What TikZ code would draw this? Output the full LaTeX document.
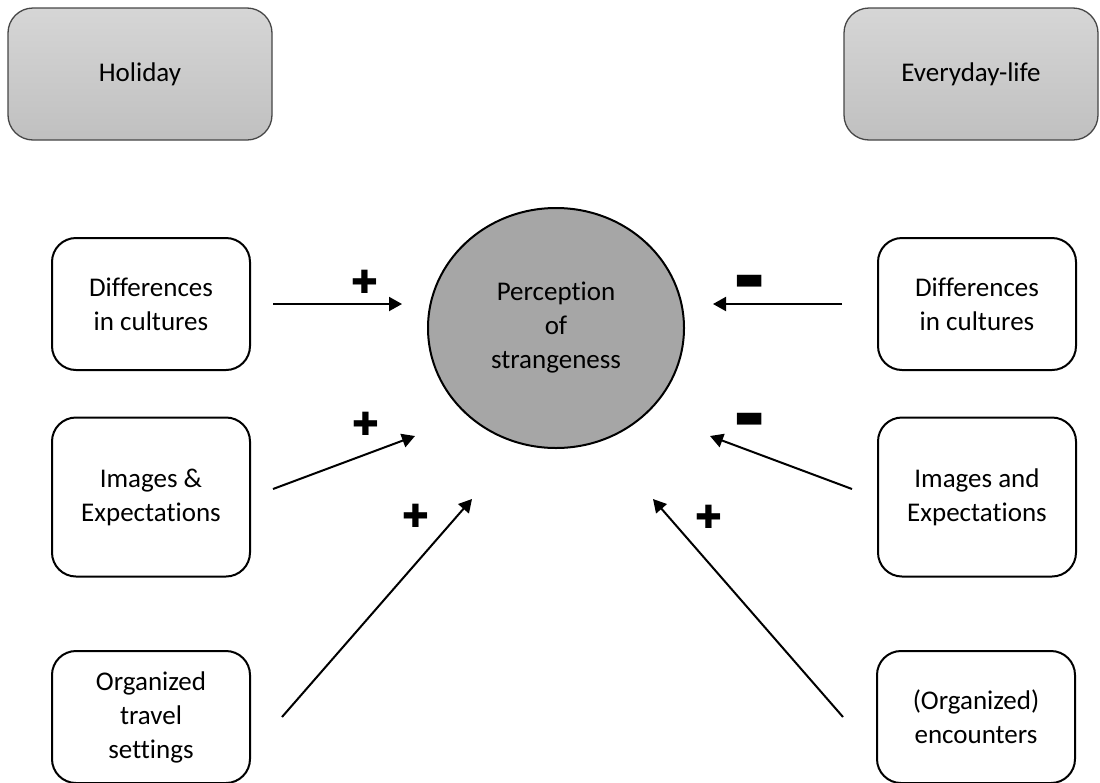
\documentclass[tikz,border=0pt]{standalone}
\usepackage{fontspec}
\setmainfont{Carlito}[Ligatures=NoCommon]
\newfontfamily\signfont{DejaVu Sans}
\usepackage{tikz}
\usetikzlibrary{shapes.geometric,arrows.meta,positioning}
\definecolor{boxtop}{RGB}{214,214,214}
\definecolor{boxbot}{RGB}{192,192,192}
\definecolor{boxline}{RGB}{70,70,70}
\definecolor{circfill}{RGB}{166,166,166}

\tikzset{
    txt/.style={font=\fontsize{27}{34}\selectfont, align=center},
    topbox/.style={txt, draw=boxline, line width=1.3pt, rounded corners=25pt,
        top color=boxtop, bottom color=boxbot, minimum width=264pt, minimum height=132pt},
    factor/.style={txt, draw, line width=2pt, rounded corners=24pt,
        minimum width=198pt, minimum height=132pt},
    arr/.style={line width=2pt, -{Triangle[length=13pt, width=14pt]}},
    sign/.style={font=\signfont\fontsize{32}{32}\selectfont, inner sep=0pt}
}

\begin{document}
\begin{tikzpicture}[x=1pt, y=-1pt]
    \useasboundingbox (0,0) rectangle (1100,782);
    \clip (0,0) rectangle (1100,782);

    % context boxes
    \node[topbox] (holiday) at (140,74) {Holiday};
    \node[topbox, minimum width=254pt] (everyday) at (971,74) {Everyday-life};

    % central node
    \node[ellipse, draw, line width=2pt, fill=circfill, txt,
          minimum width=256pt, minimum height=240pt] (strange) at (556,328)
          {Perception\\of\\strangeness};

    % holiday factors
    \node[factor] (hdiff) at (151,304) {Differences\\in cultures};
    \node[factor, minimum height=159pt] (himg) at (151,497) {Images \&\\Expectations};
    \node[factor] (htravel) at (151,717) {Organized\\travel\\settings};

    % everyday factors
    \node[factor] (ediff) at (977,304) {Differences\\in cultures};
    \node[factor, minimum height=159pt] (eimg) at (977,497) {Images and\\Expectations};
    \node[factor] (eenc) at (976,717) {(Organized)\\encounters};

    % arrow ends
    \coordinate (hdiff-s) at (273,304);
    \coordinate (hdiff-t) at (402,304);
    \coordinate (himg-s) at (273,489);
    \coordinate (himg-t) at (415,436);
    \coordinate (htravel-s) at (282,717);
    \coordinate (htravel-t) at (472,499);
    \coordinate (ediff-s) at (842,304);
    \coordinate (ediff-t) at (713,304);
    \coordinate (eimg-s) at (852,489);
    \coordinate (eimg-t) at (710,436);
    \coordinate (eenc-s) at (843,717);
    \coordinate (eenc-t) at (653,499);

    \draw[arr] (hdiff-s) -- (hdiff-t);
    \draw[arr] (himg-s) -- (himg-t);
    \draw[arr] (htravel-s) -- (htravel-t);
    \draw[arr] (ediff-s) -- (ediff-t);
    \draw[arr] (eimg-s) -- (eimg-t);
    \draw[arr] (eenc-s) -- (eenc-t);

    % signs
    \node[sign] (hdiff-sg) at (365,282) {✚};
    \node[sign] (himg-sg) at (366,424) {✚};
    \node[sign] (htravel-sg) at (416,516) {✚};
    \node[sign] (ediff-sg) at (750,282) {▬};
    \node[sign] (eimg-sg) at (750,420) {▬};
    \node[sign] (eenc-sg) at (709,517) {✚};
\end{tikzpicture}
\end{document}
